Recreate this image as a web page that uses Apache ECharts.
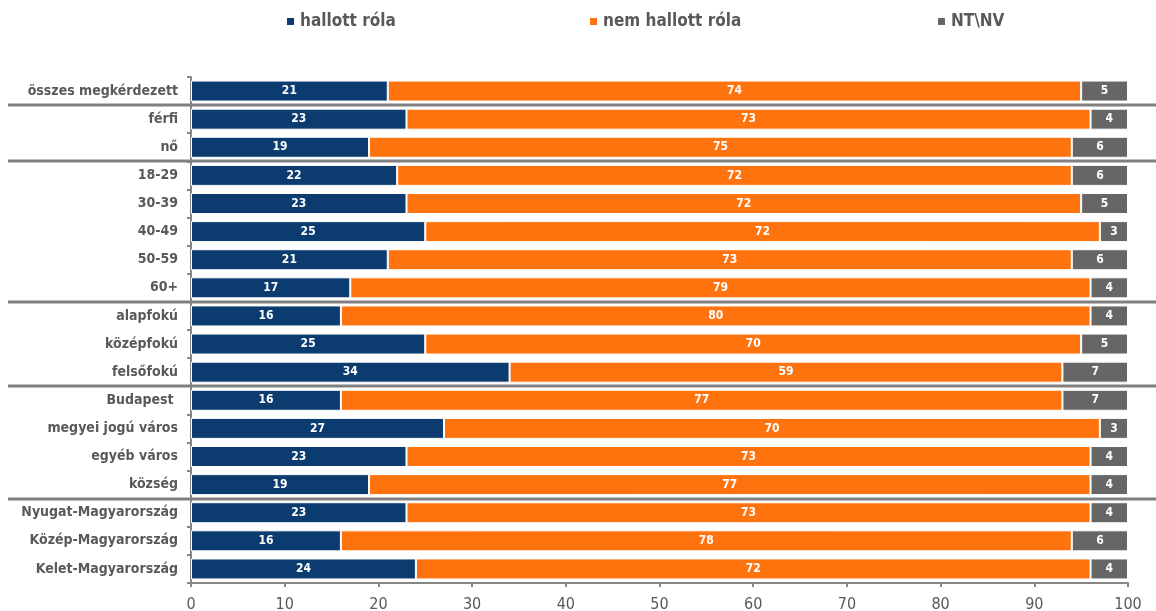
<!DOCTYPE html>
<html>
<head>
<meta charset="utf-8">
<script src="https://cdn.jsdelivr.net/npm/echarts@6/dist/echarts.min.js"></script>
<style>
  html, body { margin: 0; padding: 0; background: #fff; }
  #chart { width: 1156px; height: 611px; }
</style>
</head>
<body>
<div id="chart"></div>
<script>
  // kategóriák felülről lefelé
  var categories = ['összes megkérdezett', 'férfi', 'nő', '18-29', '30-39', '40-49', '50-59', '60+',
    'alapfokú', 'középfokú', 'felsőfokú', 'Budapest ', 'megyei jogú város', 'egyéb város', 'község',
    'Nyugat-Magyarország', 'Közép-Magyarország', 'Kelet-Magyarország'];
  var hallott = [21, 23, 19, 22, 23, 25, 21, 17, 16, 25, 34, 16, 27, 23, 19, 23, 16, 24];
  var nemHallott = [74, 73, 75, 72, 72, 72, 73, 79, 80, 70, 59, 77, 70, 73, 77, 73, 78, 72];
  var ntnv = [5, 4, 6, 6, 5, 3, 6, 4, 4, 5, 7, 7, 3, 4, 4, 4, 6, 4];
  var xTicks = [0, 10, 20, 30, 40, 50, 60, 70, 80, 90, 100];
  // csoportok utáni elválasztók (index után)
  var groupEnds = [0, 2, 7, 10, 14];

  var font = 'DejaVu Sans Condensed';
  var chart = echarts.init(document.getElementById('chart'));

  function serie(name, data, color) {
    return {
      name: name,
      type: 'bar',
      stack: 'total',
      barWidth: 21,
      data: data,
      itemStyle: { color: color, borderColor: '#ffffff', borderWidth: 1 },
      label: {
        show: true,
        position: 'inside',
        color: '#ffffff',
        fontFamily: font,
        fontWeight: 'bold',
        fontSize: 12
      }
    };
  }

  var legendBase = {
    top: 8,
    itemWidth: 9,
    itemHeight: 9,
    itemGap: 5,
    icon: 'rect',
    textStyle: { color: '#595959', fontFamily: font, fontWeight: 'bold', fontSize: 17 }
  };

  var option = {
    animation: false,
    legend: [
      Object.assign({}, legendBase, { left: 280, data: ['hallott róla'] }),
      Object.assign({}, legendBase, { left: 583, data: ['nem hallott róla'] }),
      Object.assign({}, legendBase, { left: 931, data: ['NT\\NV'] })
    ],
    grid: { left: 191, right: 28, top: 77, bottom: 28, containLabel: false, outerBoundsMode: 'none' },
    xAxis: {
      type: 'value',
      min: xTicks[0],
      max: xTicks[xTicks.length - 1],
      interval: 10,
      axisLine: { show: true, lineStyle: { color: '#868686', width: 2 } },
      axisTick: { show: true, length: 4, lineStyle: { color: '#868686', width: 2 } },
      splitLine: { show: false },
      axisLabel: { color: '#595959', fontFamily: font, fontSize: 16, margin: 14 }
    },
    yAxis: {
      type: 'category',
      inverse: true,
      data: categories,
      axisLine: { show: true, lineStyle: { color: '#868686', width: 2 } },
      axisTick: { show: true, length: 4, lineStyle: { color: '#868686', width: 2 } },
      axisLabel: { color: '#595959', fontFamily: font, fontWeight: 'bold', fontSize: 14, margin: 13 }
    },
    series: [
      serie('hallott róla', hallott, '#0C3C6F'),
      serie('nem hallott róla', nemHallott, '#FF730F'),
      serie('NT\\NV', ntnv, '#666666')
    ]
  };
  chart.setOption(option);

  // elválasztó vonalak a csoportok között
  var lines = groupEnds.map(function (i) {
    var y1 = chart.convertToPixel({ yAxisIndex: 0 }, i);
    var y2 = chart.convertToPixel({ yAxisIndex: 0 }, i + 1);
    var y = Math.round((y1 + y2) / 2);
    return {
      type: 'line',
      shape: { x1: 8, y1: y, x2: 1156, y2: y },
      style: { stroke: '#808080', lineWidth: 3 },
      z: 10
    };
  });
  chart.setOption({ graphic: lines });
</script>
</body>
</html>
